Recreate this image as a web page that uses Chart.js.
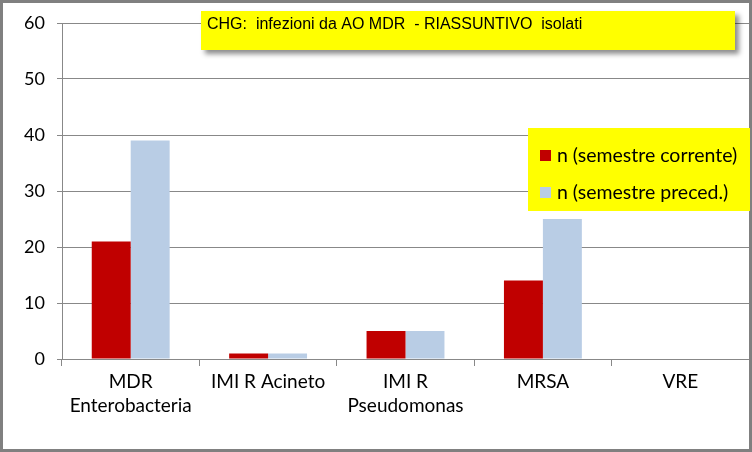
<!DOCTYPE html>
<html>
<head>
<meta charset="utf-8">
<script src="https://cdn.jsdelivr.net/npm/chart.js@4/dist/chart.umd.min.js"></script>
<style>
  html, body { margin: 0; padding: 0; background: #fff; }
  #wrap { width: 752px; height: 452px; }
</style>
</head>
<body>
<div id="wrap"><canvas id="c" width="752" height="452"></canvas></div>
<script>
// dati
const categories = [["MDR", "Enterobacteria"], "IMI R Acineto", ["IMI R", "Pseudomonas"], "MRSA", "VRE"];
const corrente = [21, 1, 5, 14, 0];
const precedente = [39, 1, 5, 25, 0];
const seriesLabels = ["n (semestre corrente)", "n (semestre preced.)"];
const chartTitle = "CHG:  infezioni da AO MDR  - RIASSUNTIVO  isolati";
const yTicks = [0, 10, 20, 30, 40, 50, 60];

const FONT = "Lato, 'Open Sans', sans-serif";

// cornice, box del titolo e legenda gialli
const decor = {
  id: "decor",
  afterDraw(chart) {
    const ctx = chart.ctx;
    ctx.save();
    // cornice esterna
    ctx.strokeStyle = "#808080";
    ctx.lineWidth = 3;
    ctx.strokeRect(1.5, 1.5, chart.width - 3, chart.height - 3);

    // titolo
    ctx.shadowColor = "rgba(0,0,0,0.45)";
    ctx.shadowBlur = 5;
    ctx.shadowOffsetX = 4;
    ctx.shadowOffsetY = 4;
    ctx.fillStyle = "#ffff00";
    ctx.fillRect(201, 11, 534, 39);
    ctx.shadowColor = "transparent";
    ctx.fillStyle = "#000";
    ctx.font = "16px 'Liberation Sans', Arial, sans-serif";
    ctx.textBaseline = "middle";
    ctx.fillText(chartTitle, 207, 25);

    // legenda
    ctx.fillStyle = "#ffff00";
    ctx.fillRect(528, 128, 222, 83);
    ctx.font = "19.5px " + FONT;
    chart.data.datasets.forEach((ds, i) => {
      const y = 156 + i * 37;
      ctx.fillStyle = ds.backgroundColor;
      ctx.fillRect(540, y - 6, 11, 11);
      ctx.fillStyle = "#000";
      ctx.fillText(ds.label, 557, y);
    });
    ctx.restore();
  }
};

new Chart(document.getElementById("c"), {
  type: "bar",
  data: {
    labels: categories,
    datasets: [
      { label: seriesLabels[0], data: corrente, backgroundColor: "#C00000" },
      { label: seriesLabels[1], data: precedente, backgroundColor: "#B9CDE5" }
    ]
  },
  options: {
    responsive: false,
    animation: false,
    layout: { padding: { top: 23, right: 3, left: 0, bottom: 0 } },
    datasets: { bar: { categoryPercentage: 0.567, barPercentage: 1.0 } },
    plugins: { legend: { display: false }, title: { display: false }, tooltip: { enabled: false } },
    scales: {
      x: {
        grid: { display: true, drawOnChartArea: false, offset: true, color: "#888", tickLength: 7 },
        border: { color: "#888", width: 1 },
        ticks: { color: "#000", font: { family: FONT, size: 19, lineHeight: 1.25 }, padding: 4, maxRotation: 0, autoSkip: false },
        afterFit(scale) { scale.height = 93; }
      },
      y: {
        min: 0, max: 60,
        afterBuildTicks(scale) { scale.ticks = yTicks.map(v => ({ value: v })); },
        grid: { color: "#888", tickLength: 5 },
        border: { color: "#888", width: 1 },
        ticks: { color: "#000", font: { family: FONT, size: 18 }, padding: 12 },
        afterFit(scale) { scale.width = 62; }
      }
    }
  },
  plugins: [decor]
});
</script>
</body>
</html>
